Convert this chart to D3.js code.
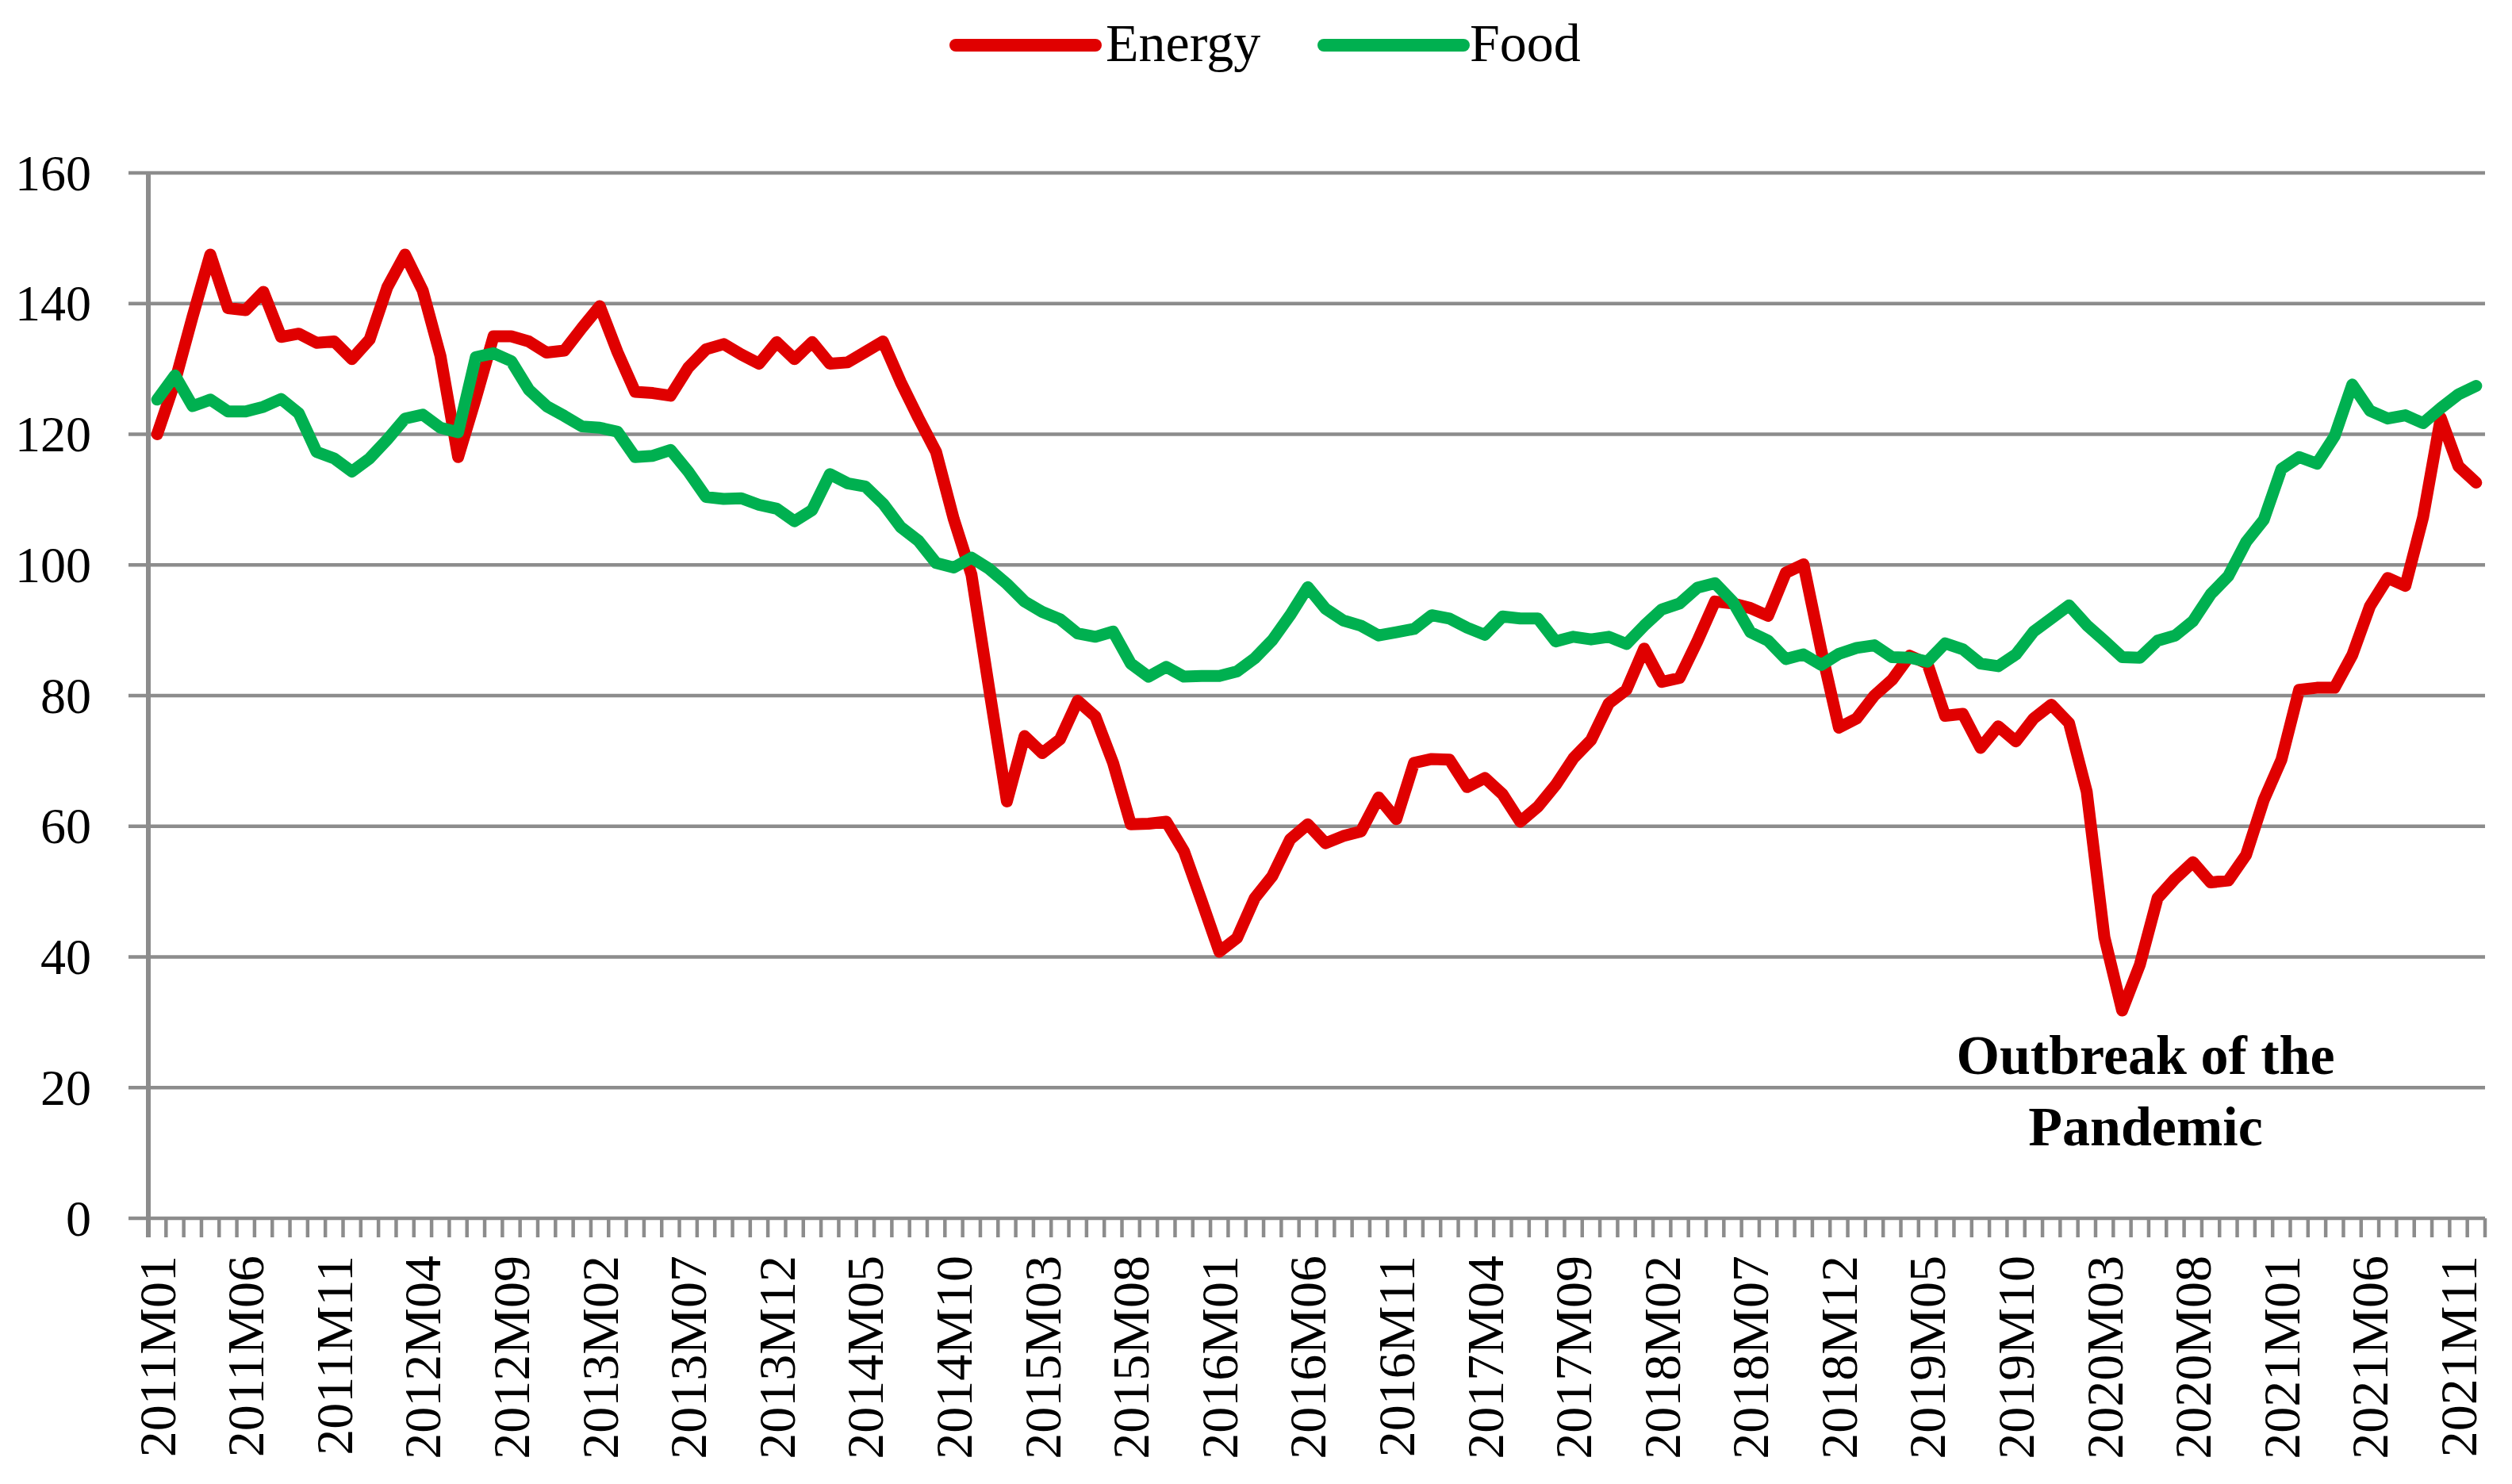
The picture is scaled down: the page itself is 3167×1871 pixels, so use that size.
<!DOCTYPE html>
<html>
<head>
<meta charset="utf-8">
<script src="https://cdn.jsdelivr.net/npm/d3@7"></script>
<style>
  html, body { margin: 0; padding: 0; background: #ffffff; }
  svg { display: block; }
</style>
</head>
<body>
<svg id="chart" width="3167" height="1871"></svg>
<script>
// ---------- DATA ----------
const years = [2011, 2012, 2013, 2014, 2015, 2016, 2017, 2018, 2019, 2020, 2021];
const monthCodes = ["M01","M02","M03","M04","M05","M06","M07","M08","M09","M10","M11","M12"];
const categories = [];
years.forEach(yr => monthCodes.forEach(m => categories.push(yr + m)));

const energy = [
  120, 128, 138, 147.5, 139.3, 139, 141.8, 134.9, 135.4, 134, 134.2, 131.5,
  134.5, 142.5, 147.5, 142, 132, 116.5, 125.5, 135, 135, 134.2, 132.5, 132.8,
  136.3, 139.6, 132.6, 126.5, 126.3, 125.9, 130.2, 133, 133.8, 132.2, 130.8, 134.1,
  131.5, 134.1, 130.8, 131, 132.6, 134.2, 128, 122.5, 117.3, 107, 98.5, 81,
  63.8, 73.8, 71.2, 73.3, 79.2, 76.8, 69.7, 60.3, 60.4, 60.7, 56.2, 48.6,
  40.8, 42.9, 49, 52.4, 58, 60.3, 57.4, 58.5, 59.2, 64.4, 61.1, 69.7,
  70.3, 70.2, 66, 67.4, 64.9, 60.7, 63, 66.3, 70.4, 73.2, 78.8, 80.9,
  87.2, 82.1, 82.7, 88.3, 94.4, 94.1, 93.4, 92.2, 98.8, 100.1, 87, 75.1,
  76.5, 80, 82.4, 86.1, 84.9, 76.9, 77.2, 72, 75.3, 73, 76.5, 78.6,
  75.8, 65.3, 43, 31.8, 38.8, 49, 52, 54.5, 51.4, 51.7, 55.6, 64,
  70.2, 80.9, 81.2, 81.2, 86.2, 93.7, 98, 96.8, 107.3, 122.5, 115.1, 112.6
];
const food = [
  125.3, 129, 124.3, 125.3, 123.5, 123.5, 124.2, 125.4, 123.2, 117.3, 116.3, 114.3,
  116.3, 119.2, 122.4, 123, 121, 120.3, 131.8, 132.4, 131.2, 126.8, 124.3, 122.8,
  121.2, 121, 120.4, 116.5, 116.7, 117.6, 114.3, 110.4, 110.1, 110.2, 109.2, 108.6,
  106.7, 108.4, 113.9, 112.5, 112, 109.4, 105.8, 103.7, 100.3, 99.6, 101.1, 99.4,
  97.1, 94.4, 92.8, 91.7, 89.5, 89, 89.8, 84.9, 82.9, 84.4, 82.9, 83,
  83, 83.7, 85.7, 88.5, 92.3, 96.6, 93.3, 91.5, 90.7, 89.2, 89.7, 90.2,
  92.3, 91.8, 90.4, 89.3, 92.1, 91.8, 91.8, 88.3, 89, 88.6, 89, 87.9,
  90.7, 93.2, 94.1, 96.5, 97.2, 94.4, 89.7, 88.4, 85.6, 86.3, 84.7, 86.4,
  87.3, 87.7, 85.9, 85.8, 85.2, 88, 87.1, 84.9, 84.5, 86.3, 89.8, 91.8,
  93.8, 90.8, 88.4, 85.9, 85.8, 88.4, 89.2, 91.4, 95.5, 98.3, 103.5, 106.9,
  114.7, 116.5, 115.5, 119.7, 127.6, 123.6, 122.4, 122.9, 121.7, 124, 126.1, 127.4
];
const yTicks = [0, 20, 40, 60, 80, 100, 120, 140, 160];
const labelEvery = 5;
const seriesNames = ["Energy", "Food"];
const seriesColors = ["#E00000", "#00B050"];
const annotationLines = ["Outbreak of the", "Pandemic"];

(function () {
// ---------- LAYOUT ----------
const svg = d3.select("#chart");
const mLeft = 187, mRight = 3133, mTop = 218, mBottom = 1536;
const gridColor = "#8c8c8c";
const fontFamily = "'Liberation Serif', 'Times New Roman', serif";

const x = d3.scaleBand().domain(categories).range([mLeft, mRight]).paddingInner(0).paddingOuter(0);
const xc = d => x(d) + x.bandwidth() / 2;
const y = d3.scaleLinear().domain([0, 160]).range([mBottom, mTop]);

// gridlines (extend left as tick marks)
svg.append("g").selectAll("line").data(yTicks).join("line")
  .attr("x1", mLeft - 25).attr("x2", mRight)
  .attr("y1", d => y(d)).attr("y2", d => y(d))
  .attr("stroke", gridColor).attr("stroke-width", 4.5);

// y axis line
svg.append("line")
  .attr("x1", mLeft).attr("x2", mLeft)
  .attr("y1", mTop).attr("y2", mBottom + 24)
  .attr("stroke", gridColor).attr("stroke-width", 6);

// x tick marks at category boundaries
const boundaries = d3.range(categories.length + 1);
svg.append("g").selectAll("line").data(boundaries).join("line")
  .attr("x1", k => mLeft + k * x.bandwidth()).attr("x2", k => mLeft + k * x.bandwidth())
  .attr("y1", mBottom).attr("y2", mBottom + 24)
  .attr("stroke", gridColor).attr("stroke-width", 4.5);

// y tick labels
svg.append("g").selectAll("text").data(yTicks).join("text")
  .attr("x", 115).attr("y", d => y(d))
  .attr("text-anchor", "end").attr("dominant-baseline", "central")
  .attr("font-family", fontFamily).attr("font-size", 64)
  .attr("fill", "#000").text(d => d);

// x tick labels (rotated)
const labelCats = categories.filter((d, i) => i % labelEvery === 0);
svg.append("g").selectAll("text").data(labelCats).join("text")
  .attr("transform", d => `translate(${xc(d)},1583) rotate(-90)`)
  .attr("text-anchor", "end").attr("dominant-baseline", "central")
  .attr("font-family", fontFamily).attr("font-size", 66)
  .attr("fill", "#000").text(d => d);

// lines
const line = d3.line().x((d, i) => xc(categories[i])).y(d => y(d));
[energy, food].forEach((s, k) => {
  svg.append("path").datum(s)
    .attr("d", line)
    .attr("fill", "none")
    .attr("stroke", seriesColors[k])
    .attr("stroke-width", 15)
    .attr("stroke-linejoin", "round")
    .attr("stroke-linecap", "round");
});

// legend
const legendItems = [
  { name: seriesNames[0], color: seriesColors[0], x1: 1205, x2: 1381, tx: 1394 },
  { name: seriesNames[1], color: seriesColors[1], x1: 1669, x2: 1845, tx: 1853 }
];
legendItems.forEach(it => {
  svg.append("line")
    .attr("x1", it.x1).attr("x2", it.x2).attr("y1", 57).attr("y2", 57)
    .attr("stroke", it.color).attr("stroke-width", 16).attr("stroke-linecap", "round");
  svg.append("text")
    .attr("x", it.tx).attr("y", 77)
    .attr("font-family", fontFamily).attr("font-size", 68)
    .attr("fill", "#000").text(it.name);
});

// annotation
const ax = 2705;
svg.append("text")
  .attr("x", ax).attr("y", 1354)
  .attr("text-anchor", "middle")
  .attr("font-family", fontFamily).attr("font-size", 70).attr("font-weight", "bold")
  .attr("fill", "#000").text(annotationLines[0]);
svg.append("text")
  .attr("x", ax).attr("y", 1444)
  .attr("text-anchor", "middle")
  .attr("font-family", fontFamily).attr("font-size", 70).attr("font-weight", "bold")
  .attr("fill", "#000").text(annotationLines[1]);
})();
</script>
</body>
</html>
